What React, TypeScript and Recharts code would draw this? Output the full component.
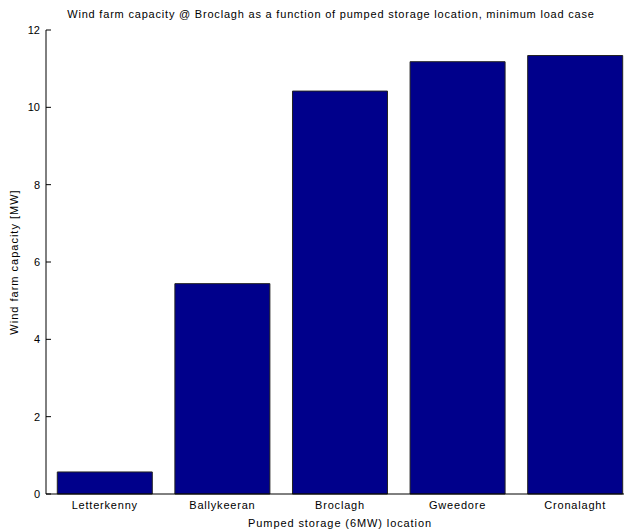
import { BarChart, Bar, XAxis, YAxis } from 'recharts';

// pumped storage locations and resulting wind farm capacity at Broclagh
const locations = ['Letterkenny', 'Ballykeeran', 'Broclagh', 'Gweedore', 'Cronalaght'];
const capacityMW = [0.57, 5.44, 10.42, 11.18, 11.34];
const yTicks = [0, 2, 4, 6, 8, 10, 12];

const data = locations.map((name, i) => ({ name, capacity: capacityMW[i] }));

const font = '"Liberation Sans", Arial, sans-serif';
const tickStyle = { fontSize: 11, fill: '#000', letterSpacing: 0.8 };

export default function App() {
  return (
    <div
      style={{
        position: 'absolute',
        left: 0,
        top: 0,
        width: 624,
        height: 531,
        overflow: 'hidden',
        background: '#fff',
        fontFamily: font,
      }}
    >
      <div
        style={{
          position: 'absolute',
          left: 0,
          top: 8,
          width: 662,
          textAlign: 'center',
          fontSize: 11,
          lineHeight: '13px',
          letterSpacing: 0.8,
          color: '#000',
        }}
      >
        Wind farm capacity @ Broclagh as a function of pumped storage location, minimum load case
      </div>
      <BarChart
        width={650}
        height={531}
        data={data}
        margin={{ top: 30, right: 16, bottom: 0, left: 0 }}
        barCategoryGap="9.6%"
        style={{ fontFamily: font }}
      >
        {/* top frame line with inward category ticks */}
        <XAxis
          xAxisId="top"
          orientation="top"
          dataKey="name"
          height={0}
          tick={false}
          tickSize={-5}
          axisLine={{ stroke: '#000' }}
          tickLine={{ stroke: '#000' }}
        />
        <XAxis
          xAxisId="bottom"
          dataKey="name"
          height={37}
          tickSize={0}
          tickMargin={7}
          tickLine={false}
          axisLine={{ stroke: '#000' }}
          tick={tickStyle}
          label={{
            value: 'Pumped storage (6MW) location',
            position: 'insideBottom',
            offset: 4,
            style: { fontSize: 11, fill: '#000', letterSpacing: 0.9 },
          }}
        />
        <YAxis
          width={46}
          domain={[0, 12]}
          ticks={yTicks}
          tickSize={-5}
          tickMargin={11}
          axisLine={{ stroke: '#000' }}
          tickLine={{ stroke: '#000' }}
          tick={{ fontSize: 11, fill: '#000' }}
          label={{
            value: 'Wind farm capacity [MW]',
            angle: -90,
            position: 'insideLeft',
            offset: 14,
            style: { fontSize: 11, fill: '#000', letterSpacing: 1, textAnchor: 'middle' },
          }}
        />
        <Bar
          xAxisId="bottom"
          dataKey="capacity"
          fill="#00008b"
          stroke="#222"
          strokeWidth={1}
          isAnimationActive={false}
        />
      </BarChart>
    </div>
  );
}
